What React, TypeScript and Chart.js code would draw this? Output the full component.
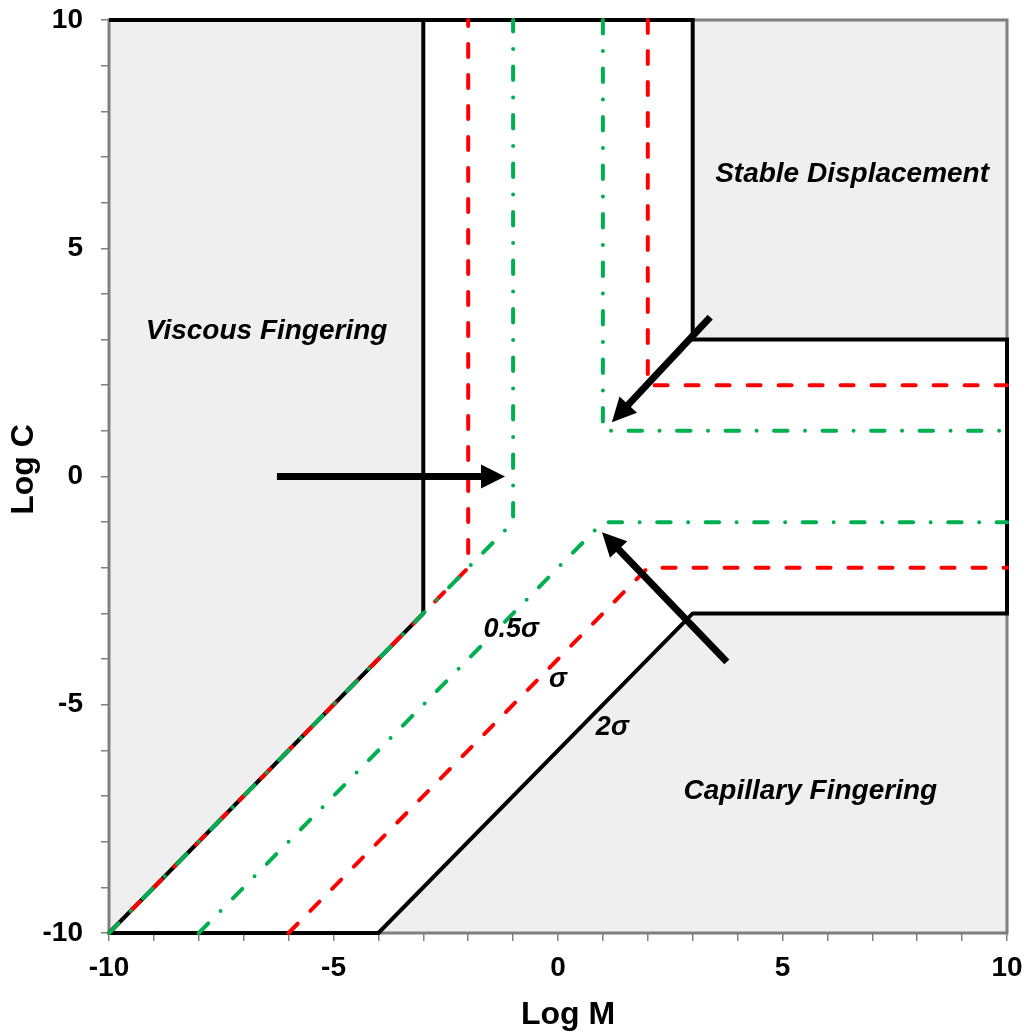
import { useEffect, useRef } from "react";
import { Chart, registerables } from "chart.js";

Chart.register(...registerables);

type P = [number, number];

// Axis range and labelled ticks (Log M horizontally, Log C vertically)
const axisMin = -10;
const axisMax = 10;
const labelledTicks = [-10, -5, 0, 5, 10];

// Shaded regime edges (filled to the top or bottom of the plot)
const viscousEdge: P[] = [[-10, -10], [-3, -3]];
const stableEdge: P[] = [[3, 3], [10, 3]];
const capillaryEdge: P[] = [[-4, -10], [3, -3], [10, -3]];

// 2σ boundaries (solid black)
const twoSigmaLeft: P[] = [[-10, -10], [-3, -3], [-3, 10]];
const twoSigmaOuter: P[] = [[-10, 10], [3, 10], [3, 3], [10, 3], [10, -3], [3, -3], [-4, -10], [-10, -10]];

// σ boundaries (red dashed)
const sigmaLeft: P[] = [[-10, -10], [-2, -2], [-2, 10]];
const sigmaUpper: P[] = [[2, 10], [2, 2], [10, 2]];
const sigmaLower: P[] = [[-6, -10], [2, -2], [10, -2]];

// 0.5σ boundaries (green dash-dot)
const halfSigmaLeft: P[] = [[-10, -10], [-1, -1], [-1, 10]];
const halfSigmaUpper: P[] = [[1, 10], [1, 1], [10, 1]];
const halfSigmaLower: P[] = [[-8, -10], [1, -1], [10, -1]];

// Arrows: [from, to]
const arrows: [P, P][] = [
  [[-6.26, 0], [-1.18, 0]],
  [[3.39, 3.49], [1.2, 1.19]],
  [[3.76, -4.06], [0.98, -1.22]],
];

// Region names and boundary labels: [text, x, baseline y]
const regionLabels: [string, number, number][] = [
  ["Viscous Fingering", -6.49, 3.01],
  ["Stable Displacement", 6.55, 6.45],
  ["Capillary Fingering", 5.62, -7.06],
];
const sigmaLabels: [string, number, number][] = [
  ["0.5σ", -1.04, -3.52],
  ["σ", 0.0, -4.61],
  ["2σ", 1.21, -5.66],
];

const xTitle = "Log M";
const yTitle = "Log C";

const FONT = "'Liberation Sans', Arial, Helvetica, sans-serif";
const SHADE = "#efefef";
const FRAME = "#7f7f7f";
const RED = "#ff0000";
const GREEN = "#00b050";

const pts = (a: P[]) => a.map(([x, y]) => ({ x, y }));

function drawArrow(ctx: CanvasRenderingContext2D, x0: number, y0: number, x1: number, y1: number) {
  const ang = Math.atan2(y1 - y0, x1 - x0);
  const c = Math.cos(ang);
  const s = Math.sin(ang);
  const headLen = 24;
  const headHalf = 12;
  const bx = x1 - headLen * c;
  const by = y1 - headLen * s;
  ctx.save();
  ctx.strokeStyle = "#000";
  ctx.fillStyle = "#000";
  ctx.lineWidth = 7;
  ctx.lineCap = "butt";
  ctx.beginPath();
  ctx.moveTo(x0, y0);
  ctx.lineTo(bx + 2 * c, by + 2 * s);
  ctx.stroke();
  ctx.beginPath();
  ctx.moveTo(x1, y1);
  ctx.lineTo(bx - s * headHalf, by + c * headHalf);
  ctx.lineTo(bx + s * headHalf, by - c * headHalf);
  ctx.closePath();
  ctx.fill();
  ctx.restore();
}

const framePlugin = {
  id: "plotFrame",
  beforeDatasetsDraw(chart: any) {
    const { ctx, chartArea: a } = chart;
    ctx.save();
    ctx.strokeStyle = FRAME;
    ctx.lineWidth = 3;
    ctx.strokeRect(a.left, a.top, a.right - a.left, a.bottom - a.top);
    ctx.restore();
  },
};

const annotationPlugin = {
  id: "annotations",
  afterDatasetsDraw(chart: any) {
    const { ctx, scales, chartArea: a } = chart;
    const xs = scales.x;
    const ys = scales.y;
    for (const [[fx, fy], [tx, ty]] of arrows) {
      drawArrow(ctx, xs.getPixelForValue(fx), ys.getPixelForValue(fy), xs.getPixelForValue(tx), ys.getPixelForValue(ty));
    }
    ctx.save();
    ctx.fillStyle = "#000";
    ctx.textAlign = "center";
    ctx.textBaseline = "alphabetic";
    ctx.font = `italic bold 28px ${FONT}`;
    for (const [t, x, y] of regionLabels) {
      ctx.fillText(t, xs.getPixelForValue(x), ys.getPixelForValue(y));
    }
    ctx.font = `italic bold 27px ${FONT}`;
    for (const [t, x, y] of sigmaLabels) {
      ctx.fillText(t, xs.getPixelForValue(x), ys.getPixelForValue(y));
    }
    // axis titles
    ctx.font = `bold 32px ${FONT}`;
    ctx.textBaseline = "middle";
    ctx.fillText(xTitle, (a.left + a.right) / 2 + 10, 1015);
    ctx.save();
    ctx.translate(24, (a.top + a.bottom) / 2 - 7);
    ctx.rotate(-Math.PI / 2);
    ctx.fillText(yTitle, 0, 0);
    ctx.restore();
    ctx.restore();
  },
};

function lineSet(data: P[], color: string, dash: number[], order: number) {
  return {
    data: pts(data),
    showLine: true,
    borderColor: color,
    borderWidth: 4,
    borderDash: dash,
    borderCapStyle: dash.length ? "round" : "butt",
    borderJoinStyle: "miter",
    pointRadius: 0,
    pointHoverRadius: 0,
    fill: false,
    clip: 8,
    order,
  };
}

function fillSet(data: P[], target: string) {
  return {
    data: pts(data),
    showLine: true,
    borderWidth: 0,
    borderColor: "rgba(0,0,0,0)",
    backgroundColor: SHADE,
    pointRadius: 0,
    pointHoverRadius: 0,
    fill: target,
    order: 10,
  };
}

export default function App() {
  const ref = useRef<HTMLCanvasElement | null>(null);

  useEffect(() => {
    if (!ref.current) return;
    const RED_DASH = [13, 18];
    const GREEN_DASH = [13.5, 17.5, 0, 17.5];
    const tickFont = { family: FONT, size: 28, weight: "bold" as const };
    const tickCallback = (v: any) => (labelledTicks.includes(Number(v)) ? String(v) : "");
    const grid = {
      drawOnChartArea: false,
      drawTicks: true,
      tickLength: 8,
      color: FRAME,
      lineWidth: 1.5,
    };

    const chart = new Chart(ref.current, {
      type: "scatter",
      data: {
        datasets: [
          fillSet(viscousEdge, "end"),
          fillSet(stableEdge, "end"),
          fillSet(capillaryEdge, "start"),
          lineSet(twoSigmaLeft, "#000", [], 3),
          lineSet(twoSigmaOuter, "#000", [], 3),
          lineSet(sigmaLeft, RED, RED_DASH, 2),
          lineSet(sigmaUpper, RED, RED_DASH, 2),
          lineSet(sigmaLower, RED, RED_DASH, 2),
          lineSet(halfSigmaLeft, GREEN, GREEN_DASH, 1),
          lineSet(halfSigmaUpper, GREEN, GREEN_DASH, 1),
          lineSet(halfSigmaLower, GREEN, GREEN_DASH, 1),
        ] as any,
      },
      options: {
        responsive: false,
        animation: false,
        devicePixelRatio: 1,
        layout: { padding: { left: 0, top: 20, right: 22, bottom: 0 } },
        plugins: {
          legend: { display: false },
          tooltip: { enabled: false },
          filler: { drawTime: "beforeDatasetsDraw" },
        } as any,
        events: [],
        scales: {
          x: {
            type: "linear",
            min: axisMin,
            max: axisMax,
            grid,
            border: { display: false },
            ticks: {
              stepSize: 1,
              autoSkip: false,
              maxRotation: 0,
              minRotation: 0,
              padding: 10,
              color: "#000",
              font: tickFont,
              callback: tickCallback,
            },
            afterFit(scale: any) {
              scale.height = 103;
              scale.paddingLeft = 0;
              scale.paddingRight = 0;
            },
          },
          y: {
            type: "linear",
            min: axisMin,
            max: axisMax,
            grid,
            border: { display: false },
            ticks: {
              stepSize: 1,
              autoSkip: false,
              padding: 18,
              color: "#000",
              font: tickFont,
              callback: tickCallback,
            },
            afterFit(scale: any) {
              scale.width = 109;
              scale.paddingTop = 0;
              scale.paddingBottom = 0;
            },
          },
        },
      },
      plugins: [framePlugin, annotationPlugin],
    });
    return () => chart.destroy();
  }, []);

  return (
    <div style={{ position: "absolute", left: 0, top: 0, width: 1029, height: 1036, background: "#fff" }}>
      <canvas ref={ref} width={1029} height={1036} style={{ display: "block" }} />
    </div>
  );
}
